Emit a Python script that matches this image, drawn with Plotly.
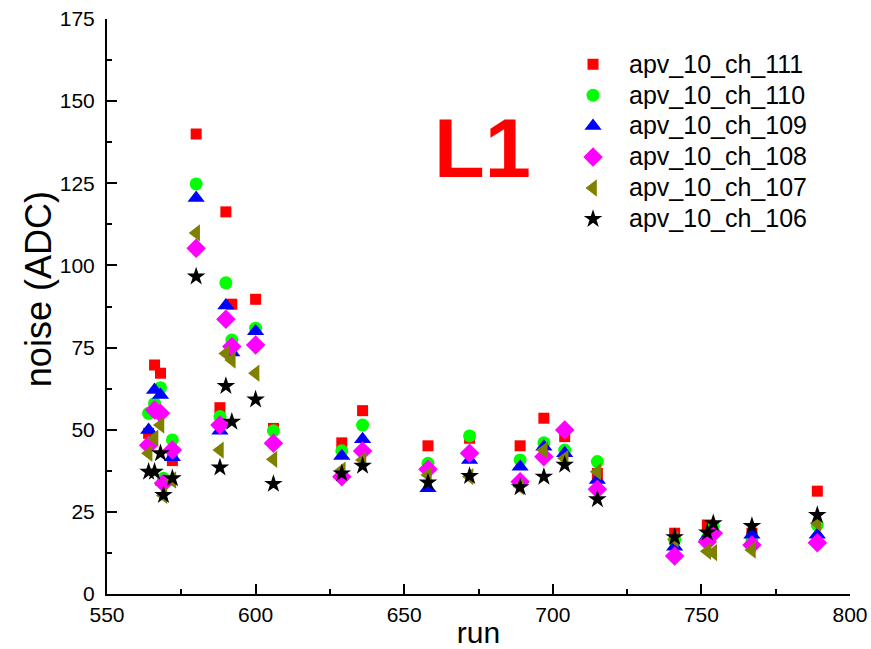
import plotly.graph_objects as go

runs = [564, 566, 568, 569, 572, 580, 588, 590, 592, 600, 606, 629, 636, 658, 672, 689, 697, 704, 715, 741, 752, 754, 767, 789]

ch111 = [48.9, 69.7, 67.2, 34.5, 40.6, 140.0, 56.7, 116.3, 88.2, 89.7, 50.4, 46.0, 55.8, 45.1, 47.4, 45.1, 53.5, 47.9, 36.7, 18.5, 21.0, 19.5, 18.5, 31.3]
ch110 = [55.0, 58.0, 62.8, 35.2, 46.9, 124.8, 54.0, 94.7, 77.3, 80.9, 49.7, 43.6, 51.4, 39.8, 48.1, 40.8, 46.0, 43.8, 40.3, 16.4, 17.0, 20.5, 16.4, 21.0]
ch109 = [49.9, 62.1, 60.6, 34.2, 41.6, 120.5, 49.7, 87.8, 73.5, 80.0, 46.5, 42.0, 47.1, 32.2, 40.8, 38.7, 44.8, 42.8, 34.7, 14.4, 17.5, 19.5, 18.0, 18.0]
ch108 = [45.3, 56.0, 55.0, 33.7, 43.8, 105.2, 51.4, 83.6, 75.3, 75.8, 45.9, 35.7, 43.5, 38.0, 42.8, 34.2, 41.8, 49.9, 31.9, 11.6, 15.9, 18.5, 14.9, 15.6]
ch107 = [42.8, 47.4, 51.4, 30.0, 34.7, 109.9, 43.8, 73.2, 71.2, 67.2, 41.0, 37.7, 40.8, 36.2, 35.7, 32.7, 43.8, 41.3, 37.2, 16.7, 13.0, 12.6, 13.4, 21.5]
ch106 = [37.2, 37.2, 42.8, 30.1, 35.2, 96.6, 38.5, 63.3, 52.4, 59.2, 33.5, 36.7, 39.0, 33.9, 35.9, 32.5, 35.7, 39.3, 28.8, 17.3, 18.7, 21.5, 20.7, 24.0]

names = ["apv_10_ch_111", "apv_10_ch_110", "apv_10_ch_109", "apv_10_ch_108", "apv_10_ch_107", "apv_10_ch_106"]
series = [ch111, ch110, ch109, ch108, ch107, ch106]
colors = ["#ff0000", "#00ff00", "#0000ff", "#ff00ff", "#808000", "#000000"]
symbols = ["square", "circle", "triangle-up", "diamond", "triangle-left", "star"]
sizes = [11, 13, 15, 15, 15, 14]

fig = go.Figure()
for name, vals, c, s, sz in zip(names, series, colors, symbols, sizes):
    fig.add_trace(go.Scatter(
        x=runs, y=vals, mode="markers",
        name='<span style="font-size:25px">' + name + '</span>',
        marker=dict(symbol=s, color=c, size=sz, line=dict(width=0)),
    ))

font_main = "Liberation Sans, Arial, sans-serif"

fig.add_annotation(x=676.5, y=135.6, xref="x", yref="y", text="<b>L1</b>",
                   showarrow=False, font=dict(family=font_main, size=83, color="#ff0000"))

# y-axis title
fig.add_annotation(x=-0.093, y=0.53, xref="paper", yref="paper", text="noise (ADC)",
                   textangle=-90, showarrow=False, xanchor="center", yanchor="middle",
                   font=dict(family=font_main, size=36, color="black"))

axis_common = dict(
    showline=True, linewidth=2, linecolor="black", mirror=False,
    ticks="inside", ticklen=10, tickwidth=2, tickcolor="black",
    showgrid=False, zeroline=False, automargin=False,
    tickfont=dict(family=font_main, size=21, color="black"),
)

fig.update_layout(
    width=871, height=649,
    margin=dict(l=107, r=21, t=19, b=55),
    plot_bgcolor="white", paper_bgcolor="white",
    xaxis=dict(range=[550, 800], dtick=50, tick0=550,
               minor=dict(ticks="inside", ticklen=5, tickwidth=2, dtick=25, tickcolor="black"),
               title=dict(text="run", font=dict(family=font_main, size=30, color="black")),
               ticklabelstandoff=1,
               **axis_common),
    yaxis=dict(range=[0, 175], dtick=25, tick0=0,
               minor=dict(ticks="inside", ticklen=5, tickwidth=2, dtick=12.5, tickcolor="black"),
               ticklabelstandoff=6,
               **axis_common),
    legend=dict(x=0.6057, y=0.957, xanchor="left", yanchor="top",
                font=dict(family=font_main, size=21.5, color="black"),
                bgcolor="rgba(0,0,0,0)", itemwidth=62, tracegroupgap=0),
    showlegend=True,
)

fig.write_html("out.html")
